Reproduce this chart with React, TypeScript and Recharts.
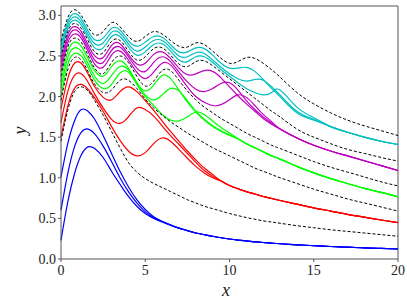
import { LineChart, Line, XAxis, YAxis, ReferenceLine } from "recharts";

// sample positions along x
const xs = [0, 0.4, 0.8, 1.2, 1.6, 2, 2.5, 3, 3.5, 4, 4.5, 5, 5.5, 6, 6.5, 7, 7.5, 8, 8.5, 9, 9.5, 10, 10.5, 11, 11.5, 12, 12.5, 13, 14, 15, 16, 17, 18, 19, 20];

// blue group (one hump)
const blueTail = [0.38, 0.35, 0.32, 0.3, 0.28, 0.262, 0.246, 0.233, 0.222, 0.212, 0.203, 0.195, 0.188, 0.175, 0.164, 0.154, 0.145, 0.137, 0.13, 0.123];
const blue1 = [0.23, 0.7, 1.05, 1.28, 1.38, 1.36, 1.25, 1.08, 0.92, 0.77, 0.65, 0.56, 0.5, 0.455, 0.415, ...blueTail];
const blue2 = [0.6, 1.05, 1.38, 1.56, 1.6, 1.54, 1.39, 1.2, 1.0, 0.83, 0.69, 0.58, 0.51, 0.46, 0.417, ...blueTail];
const blue3 = [1.01, 1.42, 1.7, 1.84, 1.82, 1.72, 1.52, 1.3, 1.08, 0.89, 0.73, 0.61, 0.52, 0.465, 0.42, ...blueTail];

// red group (two humps)
const redTail = [0.96, 0.905, 0.865, 0.83, 0.8, 0.77, 0.745, 0.72, 0.675, 0.63, 0.59, 0.55, 0.515, 0.48, 0.447];
const red1 = [1.5, 1.88, 2.1, 2.15, 2.09, 1.98, 1.82, 1.63, 1.46, 1.33, 1.27, 1.31, 1.42, 1.49, 1.45, 1.35, 1.24, 1.14, 1.06, 1.0, ...redTail];
const red2 = [1.68, 2.06, 2.26, 2.28, 2.18, 2.03, 1.86, 1.72, 1.67, 1.75, 1.86, 1.84, 1.76, 1.64, 1.52, 1.41, 1.3, 1.19, 1.09, 1.02, ...redTail];
const red3 = [1.85, 2.22, 2.41, 2.41, 2.28, 2.12, 1.99, 1.96, 2.06, 2.12, 2.06, 1.95, 1.83, 1.7, 1.57, 1.45, 1.33, 1.22, 1.12, 1.04, ...redTail];

// green group (three humps)
const greenTail = [1.48, 1.42, 1.37, 1.32, 1.27, 1.23, 1.14, 1.06, 0.99, 0.93, 0.87, 0.82, 0.765];
const green1 = [2.0, 2.4, 2.53, 2.5, 2.36, 2.2, 2.1, 2.15, 2.29, 2.3, 2.15, 2.0, 1.89, 1.78, 1.71, 1.7, 1.75, 1.81, 1.78, 1.7, 1.62, 1.55, ...greenTail];
const green2 = [2.1, 2.48, 2.6, 2.56, 2.41, 2.25, 2.16, 2.26, 2.37, 2.33, 2.17, 2.02, 1.96, 2.02, 2.1, 2.07, 1.95, 1.82, 1.72, 1.64, 1.58, 1.53, ...greenTail];
const green3 = [2.18, 2.55, 2.67, 2.62, 2.47, 2.32, 2.25, 2.37, 2.44, 2.35, 2.17, 2.07, 2.14, 2.26, 2.22, 2.08, 1.93, 1.81, 1.71, 1.63, 1.57, 1.52, ...greenTail];

// magenta group (four humps)
const magentaTail = [1.6, 1.49, 1.4, 1.33, 1.27, 1.21, 1.15, 1.09];
const magenta1 = [2.31, 2.66, 2.77, 2.72, 2.56, 2.4, 2.36, 2.51, 2.56, 2.45, 2.3, 2.22, 2.3, 2.41, 2.39, 2.26, 2.12, 2.0, 1.93, 1.89, 1.9, 1.96, 2.02, 1.99, 1.89, 1.78, 1.69, ...magentaTail];
const magenta2 = [2.37, 2.71, 2.82, 2.76, 2.6, 2.45, 2.42, 2.57, 2.61, 2.49, 2.35, 2.31, 2.42, 2.49, 2.43, 2.3, 2.18, 2.09, 2.06, 2.1, 2.16, 2.17, 2.08, 1.95, 1.84, 1.75, 1.67, ...magentaTail];
const magenta3 = [2.43, 2.76, 2.86, 2.8, 2.64, 2.5, 2.48, 2.63, 2.65, 2.52, 2.4, 2.41, 2.52, 2.55, 2.47, 2.35, 2.27, 2.28, 2.32, 2.31, 2.23, 2.12, 2.01, 1.91, 1.82, 1.73, 1.66, ...magentaTail];

// cyan group (five humps)
const cyanTail = [1.63, 1.56, 1.5, 1.45, 1.41];
const cyan1 = [2.53, 2.84, 2.94, 2.88, 2.73, 2.6, 2.6, 2.74, 2.74, 2.61, 2.51, 2.55, 2.64, 2.65, 2.56, 2.45, 2.43, 2.49, 2.49, 2.42, 2.33, 2.25, 2.17, 2.1, 2.05, 2.02, 2.05, 2.08, 1.87, 1.74, ...cyanTail];
const cyan2 = [2.58, 2.88, 2.98, 2.92, 2.77, 2.65, 2.66, 2.79, 2.78, 2.65, 2.56, 2.61, 2.69, 2.69, 2.6, 2.5, 2.49, 2.54, 2.53, 2.45, 2.36, 2.28, 2.22, 2.19, 2.21, 2.2, 2.12, 2.02, 1.82, 1.72, ...cyanTail];
const cyan3 = [2.63, 2.92, 3.02, 2.96, 2.81, 2.7, 2.72, 2.84, 2.82, 2.69, 2.62, 2.67, 2.74, 2.73, 2.64, 2.55, 2.55, 2.6, 2.59, 2.51, 2.41, 2.35, 2.35, 2.36, 2.31, 2.21, 2.1, 2.0, 1.8, 1.71, ...cyanTail];

// dashed separating curves
const sep0 = [1.45, 1.83, 2.06, 2.12, 2.07, 1.95, 1.77, 1.57, 1.37, 1.19, 1.07, 0.99, 0.93, 0.88, 0.83, 0.78, 0.73, 0.69, 0.65, 0.62, 0.59, 0.56, 0.535, 0.51, 0.49, 0.47, 0.455, 0.44, 0.41, 0.385, 0.36, 0.34, 0.32, 0.3, 0.28];
const sep1 = [1.95, 2.33, 2.48, 2.45, 2.31, 2.15, 2.05, 2.08, 2.2, 2.2, 2.1, 1.97, 1.86, 1.77, 1.69, 1.62, 1.55, 1.49, 1.43, 1.37, 1.32, 1.27, 1.22, 1.17, 1.12, 1.08, 1.04, 1.0, 0.93, 0.86, 0.8, 0.74, 0.69, 0.64, 0.59];
const sep2 = [2.25, 2.61, 2.72, 2.67, 2.51, 2.35, 2.28, 2.42, 2.5, 2.42, 2.25, 2.13, 2.19, 2.32, 2.32, 2.2, 2.07, 1.96, 1.87, 1.8, 1.73, 1.67, 1.61, 1.55, 1.5, 1.45, 1.4, 1.36, 1.28, 1.2, 1.13, 1.07, 1.01, 0.95, 0.9];
const sep3 = [2.48, 2.8, 2.9, 2.84, 2.69, 2.55, 2.54, 2.68, 2.69, 2.56, 2.45, 2.49, 2.59, 2.6, 2.51, 2.4, 2.37, 2.43, 2.44, 2.38, 2.3, 2.22, 2.14, 2.06, 1.98, 1.9, 1.82, 1.75, 1.6, 1.5, 1.42, 1.35, 1.3, 1.25, 1.205];
const sep4 = [2.68, 2.97, 3.07, 3.0, 2.86, 2.76, 2.8, 2.91, 2.86, 2.74, 2.68, 2.74, 2.8, 2.77, 2.69, 2.62, 2.61, 2.66, 2.64, 2.56, 2.47, 2.41, 2.43, 2.48, 2.47, 2.41, 2.33, 2.24, 2.05, 1.91, 1.8, 1.71, 1.64, 1.58, 1.52];

const xTicks = [0, 5, 10, 15, 20];
const yTicks = [0, 0.5, 1, 1.5, 2, 2.5, 3];

const solid: [string, number[], string][] = [
  ["b1", blue1, "#0000ff"], ["b2", blue2, "#0000ff"], ["b3", blue3, "#0000ff"],
  ["r1", red1, "#ff0000"], ["r2", red2, "#ff0000"], ["r3", red3, "#ff0000"],
  ["g1", green1, "#00ff00"], ["g2", green2, "#00ff00"], ["g3", green3, "#00ff00"],
  ["m1", magenta1, "#bf00bf"], ["m2", magenta2, "#bf00bf"], ["m3", magenta3, "#bf00bf"],
  ["c1", cyan1, "#00bfbf"], ["c2", cyan2, "#00bfbf"], ["c3", cyan3, "#00bfbf"],
];
const dashed: [string, number[]][] = [["d0", sep0], ["d1", sep1], ["d2", sep2], ["d3", sep3], ["d4", sep4]];

const data = xs.map((x, i) => {
  const row: Record<string, number> = { x };
  solid.forEach(([k, v]) => (row[k] = v[i]));
  dashed.forEach(([k, v]) => (row[k] = v[i]));
  return row;
});

const font = "'Liberation Serif', 'DejaVu Serif', serif";
const frame = "#555";

export default function App() {
  return (
    <div style={{ position: "relative", width: 407, height: 305 }}>
      <style>{"body{margin:0}"}</style>
      <LineChart width={407} height={305} data={data} margin={{ top: 6, right: 9, bottom: 0, left: 0 }}>
        <XAxis
          dataKey="x"
          type="number"
          domain={[0, 20]}
          ticks={xTicks}
          height={46}
          tickSize={3}
          tickMargin={3}
          stroke={frame}
          tick={{ fontSize: 14, fill: "#222", fontFamily: font }}
        />
        <YAxis
          type="number"
          domain={[0, 3.115]}
          ticks={yTicks}
          width={61}
          tickSize={3}
          tickFormatter={(v: number) => v.toFixed(1)}
          stroke={frame}
          tick={{ fontSize: 14, fill: "#222", fontFamily: font }}
        />
        <ReferenceLine y={3.115} stroke={frame} />
        <ReferenceLine x={20} stroke={frame} />
        {solid.map(([k, , c]) => (
          <Line key={k} dataKey={k} type="natural" stroke={c} strokeWidth={1.2} dot={false} isAnimationActive={false} />
        ))}
        {dashed.map(([k]) => (
          <Line key={k} dataKey={k} type="natural" stroke="#000" strokeWidth={1} strokeDasharray="3 2" dot={false} isAnimationActive={false} />
        ))}
      </LineChart>
      <span style={{ position: "absolute", left: 222, top: 280, fontFamily: font, fontStyle: "italic", fontSize: 18, color: "#222" }}>x</span>
      <span style={{ position: "absolute", left: 16, top: 120, fontFamily: font, fontStyle: "italic", fontSize: 18, color: "#222", transform: "rotate(-90deg)" }}>y</span>
    </div>
  );
}
